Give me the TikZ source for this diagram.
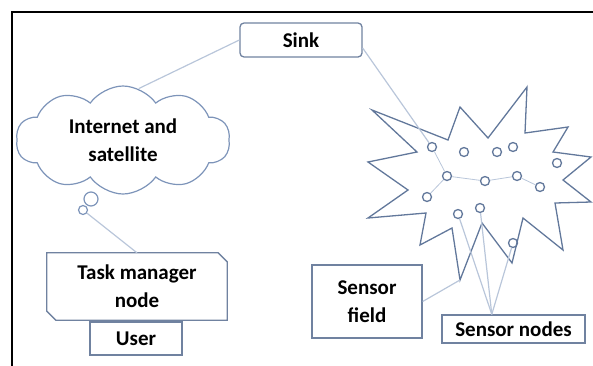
\documentclass[tikz,border=0pt]{standalone}
\usepackage{fontspec}
\setmainfont{Carlito}
\usetikzlibrary{shapes.symbols}
\definecolor{boxline}{RGB}{112,130,160}
\definecolor{starline}{RGB}{98,120,155}
\definecolor{linkline}{RGB}{185,198,218}
\definecolor{cloudline}{RGB}{125,148,185}

\begin{document}
\begin{tikzpicture}[x=1pt,y=-1pt,
    txt/.style={font=\fontsize{21}{28}\selectfont\bfseries,align=center,inner sep=0pt},
    box/.style={txt,draw=boxline,line width=1.3pt},
    link/.style={draw=linkline,line width=1.2pt},
    mote/.style={circle,draw=starline,line width=1.3pt,minimum size=9pt,inner sep=0pt}]
    \clip (0,0) rectangle (593,365);
    \draw[line width=1.6pt] (12,12) rectangle (610,380);

    \node[box,rounded corners=4pt,minimum width=122pt,minimum height=34pt] (sink) at (301,40) {Sink};
    \node[txt,cloud,draw=cloudline,line width=1.2pt,cloud puffs=10,cloud puff arc=110,aspect=2,
      minimum width=214pt,minimum height=108pt] (net) at (123,140) {Internet and\\satellite};
    \node[circle,draw=cloudline,line width=1.2pt,minimum size=14pt,inner sep=0pt] (bub1) at (91,199) {};
    \node[circle,draw=cloudline,line width=1.2pt,minimum size=9pt,inner sep=0pt] (bub2) at (83,210) {};

    \node[txt,minimum width=180pt,minimum height=67pt] (tm) at (137,286.5) {Task manager\\node};
    \draw[boxline,line width=1.3pt] (tm.north west) -- ([xshift=-9pt]tm.north east)
      -- ([yshift=-9pt]tm.north east) -- (tm.south east) -- ([xshift=9pt]tm.south west)
      -- ([yshift=9pt]tm.south west) -- cycle;
    \node[box,minimum width=92pt,minimum height=33pt] (user) at (136,338.5) {User};

    \node[box,minimum width=110pt,minimum height=73pt] (sf) at (367,301.5) {Sensor\\field};
    \node[box,minimum width=143pt,minimum height=28pt] (sn) at (513.5,329) {Sensor nodes};

    \draw[starline,line width=1.3pt] (372,110) -- (448,140) -- (460,107) -- (488,138)
      -- (527,87) -- (525,133) -- (568,127) -- (553,152) -- (591,157) -- (563,180)
      -- (591,202) -- (555,203) -- (563,250) -- (523,218) -- (512,263) -- (482,223)
      -- (460,280) -- (452,228) -- (420,245) -- (426,213) -- (368,218) -- (408,190)
      -- (368,162) -- (417,152) -- cycle;
    \coordinate (tip) at (460,280);

    \foreach \name/\pos in {s1/{(432,147)}, s2/{(464,152)}, s3/{(497,152)}, s4/{(513,147)},
        s5/{(557,163)}, s6/{(447,176)}, s7/{(485,181)}, s8/{(517,176)}, s9/{(540,187)},
        s10/{(427,197)}, s11/{(480,208)}, s12/{(458,214)}, s13/{(513,243)}}
      \node[mote] (\name) at \pos {};

    \draw[link] (sink.west) -- (net.73);
    \draw[link] ([yshift=-8pt]sink.east) -- (s1);
    \draw[link] (bub2) -- (tm.north);
    \draw[link] (sf.east) -- (tip);
    \draw[link] (sn.146) -- (s12);
    \draw[link] (sn.146) -- (s11);
    \draw[link] (sn.146) -- (s13);
    \draw[link,line width=0.8pt] (s1) -- (s6) -- (s7) -- (s8) -- (s9);
    \draw[link,line width=0.8pt] (s6) -- (s10);
\end{tikzpicture}
\end{document}
